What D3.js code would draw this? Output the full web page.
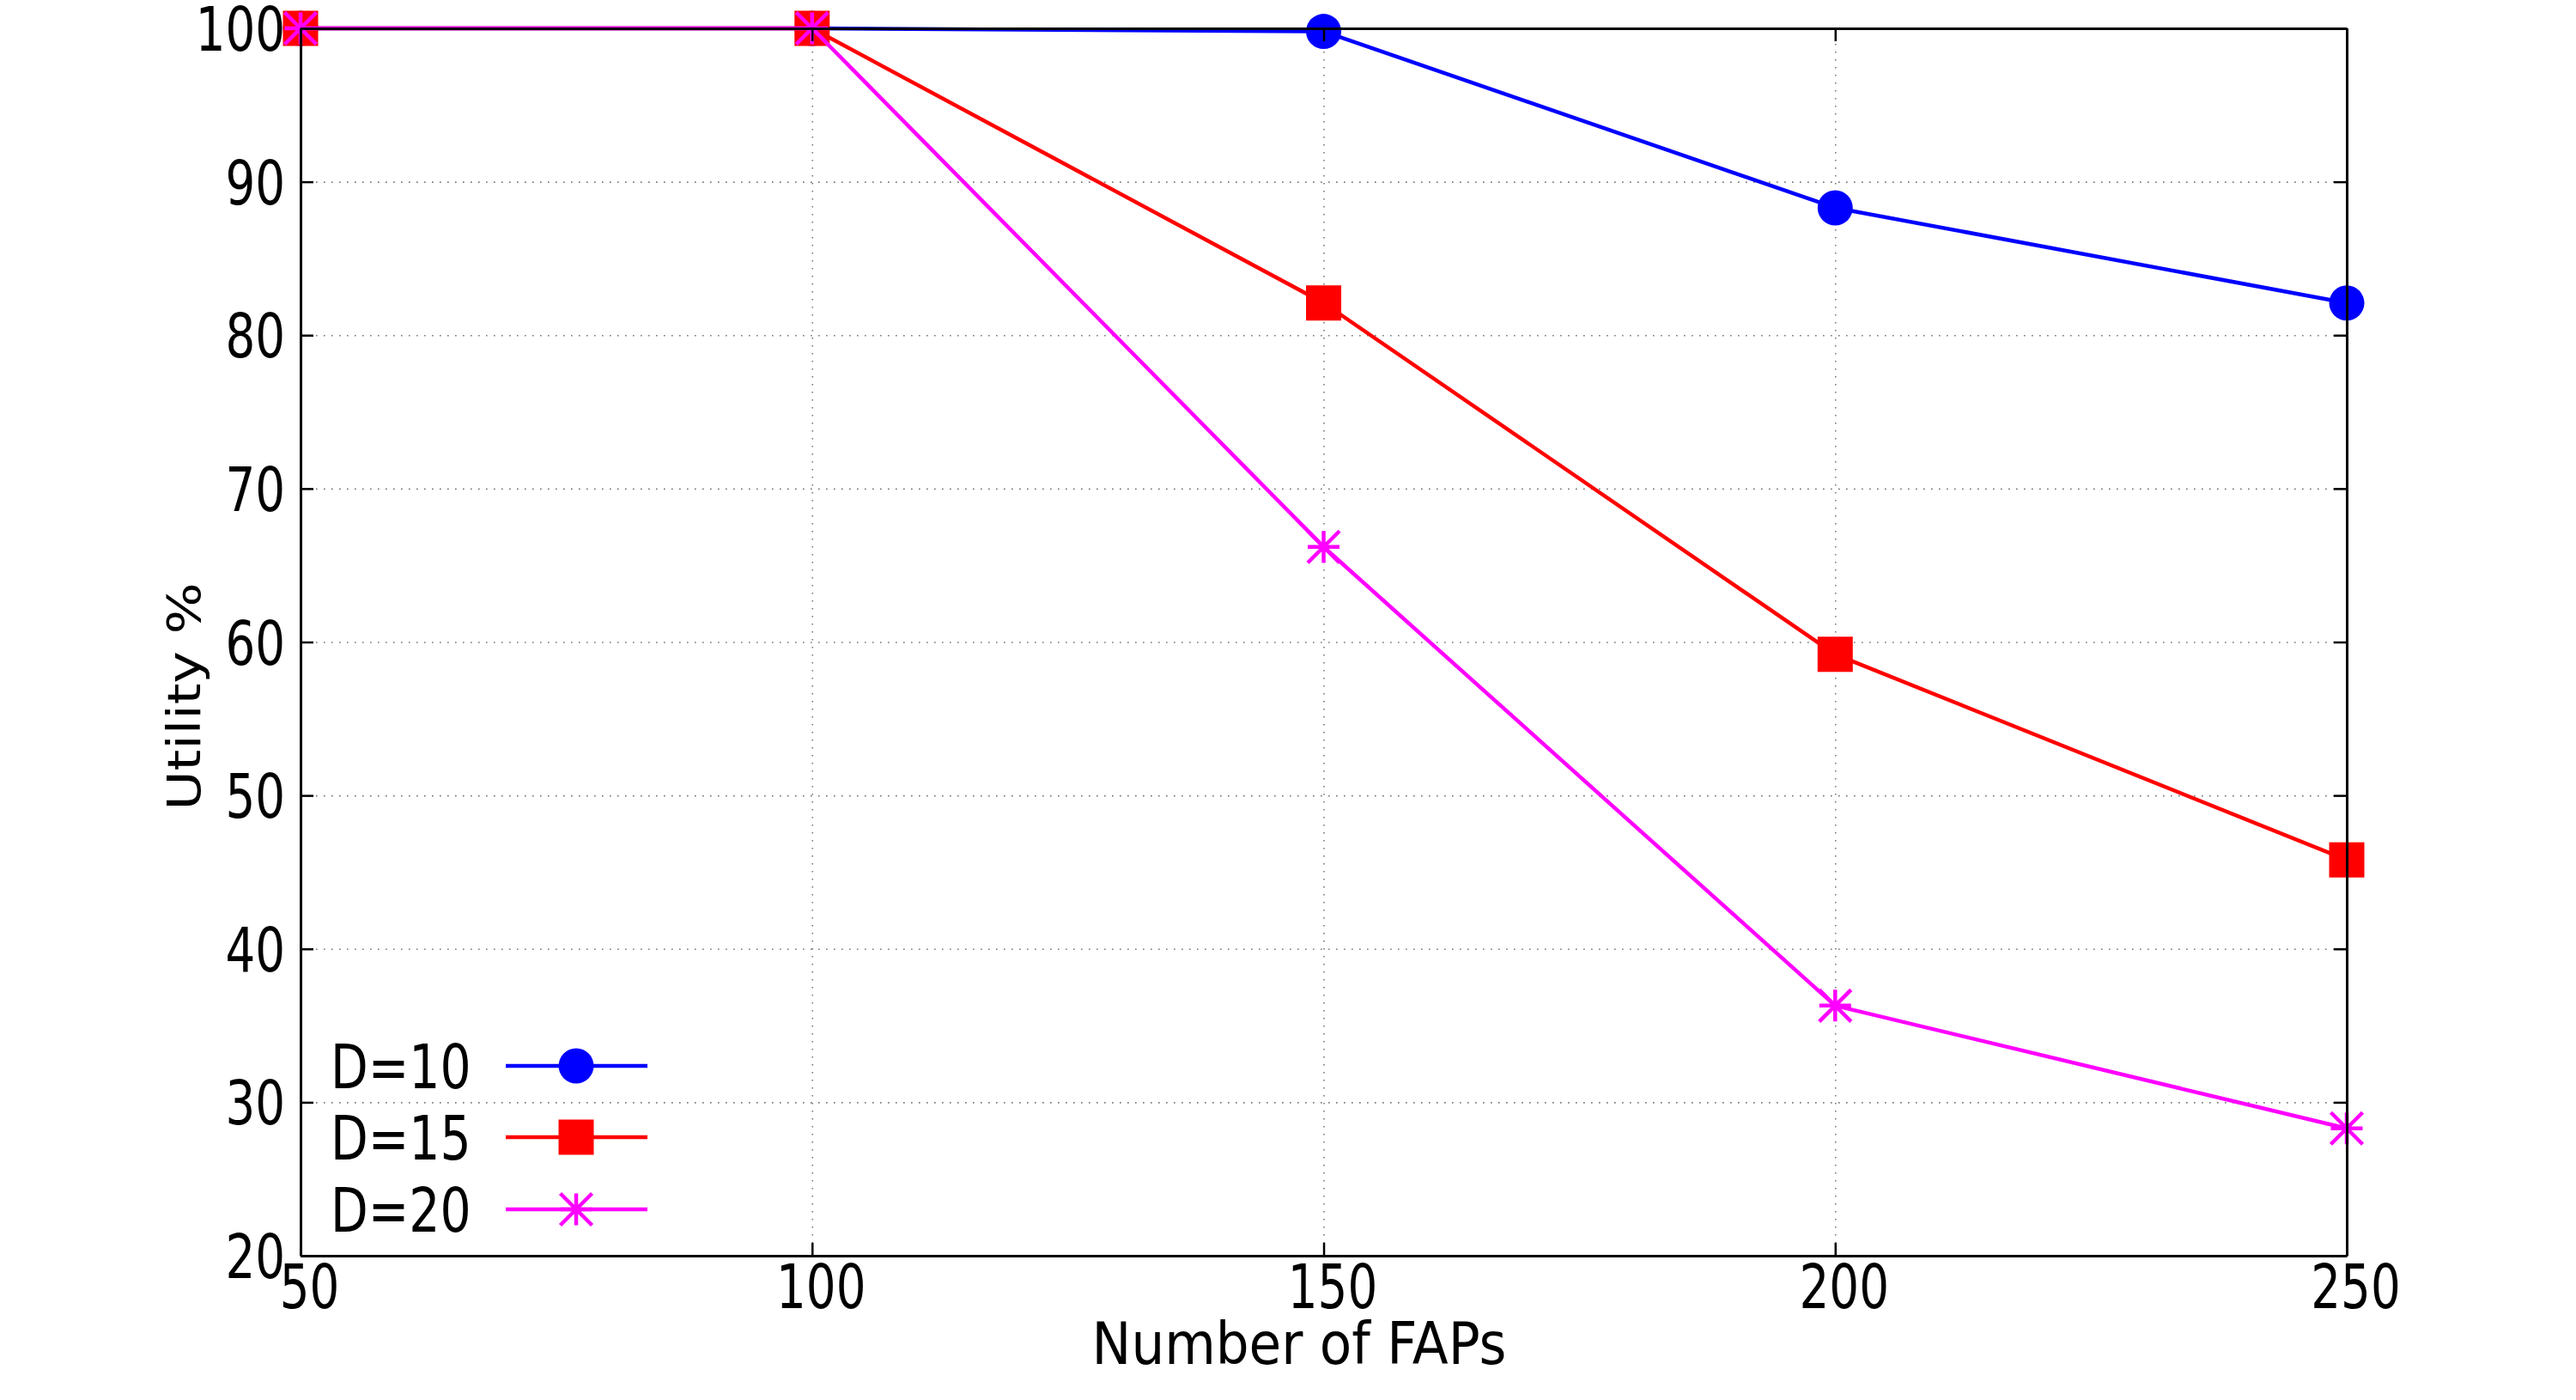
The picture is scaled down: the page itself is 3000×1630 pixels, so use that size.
<!DOCTYPE html>
<html>
<head>
<meta charset="utf-8">
<script src="https://cdn.jsdelivr.net/npm/d3@7"></script>
<style>
  html, body { margin: 0; padding: 0; background: #fff; }
  svg { display: block; }
  text { font-family: "DejaVu Sans", sans-serif; fill: #000; }
</style>
</head>
<body>
<svg id="chart" width="3000" height="1630"></svg>
<script>
// ---- data ----
const fapCounts = [50, 100, 150, 200, 250];
const seriesNames = ["D=10", "D=15", "D=20"];
const utilD10 = [100, 100, 99.8, 88.3, 82.1];
const utilD15 = [100, 100, 82.1, 59.2, 45.8];
const utilD20 = [100, 100, 66.2, 36.3, 28.3];
const xTicks = [50, 100, 150, 200, 250];
const yTicks = [20, 30, 40, 50, 60, 70, 80, 90, 100];
const xLabel = "Number of FAPs";
const yLabel = "Utility %";

// ---- styling ----
const colors = ["#0000ff", "#ff0000", "#ff00ff"];
const markers = ["circle", "square", "asterisk"];
const margin = { left: 350, top: 33, right: 3000 - 2733, bottom: 1630 - 1462 };
const W = 3000, H = 1630;
const iw = W - margin.left - margin.right;
const ih = H - margin.top - margin.bottom;
const tickFont = 71, sx = 0.77, legSx = 0.8;

const svg = d3.select("#chart");
const g = svg.append("g").attr("transform", `translate(${margin.left},${margin.top})`);

const x = d3.scaleLinear().domain([50, 250]).range([0, iw]);
const y = d3.scaleLinear().domain([20, 100]).range([ih, 0]);

// grid
const gridStyle = sel => {
  sel.select(".domain").remove();
  sel.selectAll("line").attr("stroke", "#777").attr("stroke-width", 1.6)
     .attr("stroke-dasharray", "1.6,7.4");
};
g.append("g").attr("class", "grid-x")
  .call(d3.axisBottom(x).tickValues(xTicks).tickSize(ih).tickFormat(""))
  .call(gridStyle);
g.append("g").attr("class", "grid-y")
  .call(d3.axisLeft(y).tickValues(yTicks).tickSize(-iw).tickFormat(""))
  .call(gridStyle);

// series
const series = [utilD10, utilD15, utilD20].map((vals, i) => ({
  name: seriesNames[i], color: colors[i], marker: markers[i],
  points: fapCounts.map((f, j) => ({ x: f, y: vals[j] }))
}));

const line = d3.line().x(d => x(d.x)).y(d => y(d.y));

function drawMarker(sel, type, color) {
  const r = 20.5;
  if (type === "circle") {
    sel.append("circle").attr("r", r).attr("fill", color);
  } else if (type === "square") {
    sel.append("rect").attr("x", -r).attr("y", -r).attr("width", 2 * r).attr("height", 2 * r).attr("fill", color);
  } else {
    const a = 18.5;
    const p = d3.path();
    p.moveTo(-a, 0); p.lineTo(a, 0);
    p.moveTo(0, -a); p.lineTo(0, a);
    p.moveTo(-a, -a); p.lineTo(a, a);
    p.moveTo(-a, a); p.lineTo(a, -a);
    sel.append("path").attr("d", p.toString()).attr("stroke", color)
      .attr("stroke-width", 4.5).attr("fill", "none");
  }
}

series.forEach(s => {
  g.append("path").datum(s.points).attr("d", line)
    .attr("fill", "none").attr("stroke", s.color).attr("stroke-width", 4.5)
    .attr("stroke-linejoin", "round");
  g.selectAll(null).data(s.points).enter().append("g")
    .attr("transform", d => `translate(${x(d.x)},${y(d.y)})`)
    .each(function () { drawMarker(d3.select(this), s.marker, s.color); });
});

// axes (inward ticks on all sides)
const axisStyle = sel => {
  sel.select(".domain").attr("stroke", "#000").attr("stroke-width", 3);
  sel.selectAll(".tick line").attr("stroke", "#000").attr("stroke-width", 2.5);
};
const ax = g.append("g").attr("transform", `translate(0,${ih})`)
  .call(d3.axisBottom(x).tickValues(xTicks).tickSize(-15).tickSizeOuter(0).tickFormat(d3.format("d")))
  .call(axisStyle);
ax.selectAll(".tick text")
  .attr("font-size", tickFont).attr("font-family", "DejaVu Sans")
  .attr("fill", "#000")
  .attr("dy", 0).attr("y", 61).attr("x", 10 / sx)
  .attr("transform", `scale(${sx},1)`);

const ay = g.append("g")
  .call(d3.axisLeft(y).tickValues(yTicks).tickSize(-15).tickSizeOuter(0).tickPadding(20).tickFormat(d3.format("d")))
  .call(axisStyle);
ay.selectAll(".tick text")
  .attr("font-size", tickFont).attr("font-family", "DejaVu Sans")
  .attr("fill", "#000")
  .attr("dy", "0.36em").attr("x", -18 / sx)
  .attr("transform", `scale(${sx},1)`);

g.append("g")
  .call(d3.axisTop(x).tickValues(xTicks).tickSize(-15).tickSizeOuter(0).tickFormat(""))
  .call(axisStyle);
g.append("g").attr("transform", `translate(${iw},0)`)
  .call(d3.axisRight(y).tickValues(yTicks).tickSize(-15).tickSizeOuter(0).tickFormat(""))
  .call(axisStyle);

// legend
const legend = g.append("g").attr("transform", `translate(0,${ih})`);
const rowY = [-221, -138, -54];
series.forEach((s, i) => {
  const row = legend.append("g").attr("transform", `translate(0,${rowY[i]})`);
  row.append("text").attr("transform", `translate(35,0) scale(${legSx},1)`)
    .attr("font-size", tickFont).attr("dy", "0.36em").text(s.name);
  row.append("line").attr("x1", 239).attr("x2", 404).attr("y1", 0).attr("y2", 0)
    .attr("stroke", s.color).attr("stroke-width", 4.5);
  const m = row.append("g").attr("transform", "translate(321,0)");
  drawMarker(m, s.marker, s.color);
});

// axis labels
svg.append("text")
  .attr("transform", `translate(1513,1588) scale(0.9,1)`)
  .attr("text-anchor", "middle").attr("font-size", 68).text(xLabel);
svg.append("text")
  .attr("transform", `translate(233,811) rotate(-90) scale(1,0.86)`)
  .attr("text-anchor", "middle").attr("font-size", 63).text(yLabel);
</script>
</body>
</html>
